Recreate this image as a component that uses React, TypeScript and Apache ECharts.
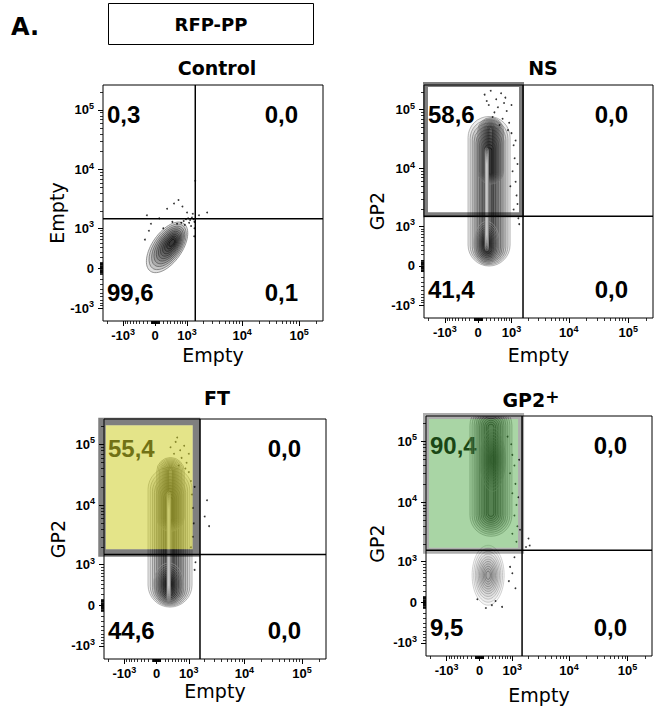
import React, { useEffect, useRef } from "react";
import * as echarts from "echarts";

// ---------------- data ----------------
const panelTitles = ["Control", "NS", "FT", "GP2+"];
const xAxisTitles = ["Empty", "Empty", "Empty", "Empty"];
const yAxisTitles = ["Empty", "GP2", "GP2", "GP2"];
// quadrant percentages: upper-left, upper-right, lower-left, lower-right
const quadrantPercents = [
  [0.3, 0.0, 99.6, 0.1],
  [58.6, 0.0, 41.4, 0.0],
  [55.4, 0.0, 44.6, 0.0],
  [90.4, 0.0, 9.5, 0.0],
];
const quadrantX = [1450, 1640, 1640, 1530];
const quadrantY = [1480, 1530, 1510, 1580];
const gatedPanels = [false, true, true, true];

const axisMinX = -2400;
const axisMaxX = 262144;
const axisMinY = -1700;
const axisMaxY = 262144;
const majorTicks = [-1000, 0, 1000, 10000, 100000];
const majorTickBase = ["-10", "0", "10", "10", "10"];
const majorTickExp = ["3", "", "3", "4", "5"];
const minorMultipliers = [1, 2, 3, 4, 5, 6, 7, 8, 9];
const minorPosDecades = [10, 100, 1000, 10000];
const minorNegDecades = [10, 100];
const minorExtra = [200000, -1000, -2000];

// cell populations drawn as contour rings: centre (raw values), spread (axis units)
type Cluster = { x: number; y: number; w: number; h: number; rot: number; shape: string; dx: number; dy: number; tone: string };
const controlClusters: Cluster[] = [
  { x: 300, y: 400, w: 2.35, h: 1.15, rot: 55, shape: "ellipse", dx: 0.22, dy: 0.2, tone: "black" },
];
const nsClusters: Cluster[] = [
  { x: 258, y: 4120, w: 1.63, h: 5.84, rot: 0, shape: "stadium", dx: 0, dy: -0.4, tone: "dark" },
  { x: 200, y: 450, w: 1.0, h: 1.7, rot: 0, shape: "ellipse", dx: 0, dy: 0, tone: "dark" },
  { x: 300, y: 20000, w: 1.0, h: 2.6, rot: 0, shape: "stadium", dx: 0, dy: 0, tone: "mid" },
  { x: 200, y: 3000, w: 0.13, h: 4.0, rot: 0, shape: "stadium", dx: 0, dy: 0, tone: "highlight" },
];
const ftClusters: Cluster[] = [
  { x: 337, y: 2950, w: 1.76, h: 5.3, rot: 0, shape: "stadium", dx: 0, dy: -0.4, tone: "dark" },
  { x: 300, y: 400, w: 1.2, h: 1.6, rot: 0, shape: "ellipse", dx: 0, dy: 0, tone: "dark" },
  { x: 350, y: 15000, w: 1.1, h: 2.8, rot: 0, shape: "stadium", dx: 0, dy: 0, tone: "mid" },
  { x: 300, y: 2000, w: 0.13, h: 4.2, rot: 0, shape: "stadium", dx: 0, dy: 0, tone: "highlight" },
];
const gp2Clusters: Cluster[] = [
  { x: 277, y: 33400, w: 1.65, h: 5.0, rot: 0, shape: "stadium", dx: 0, dy: 0, tone: "dark" },
  { x: 320, y: 50000, w: 1.0, h: 2.4, rot: 0, shape: "ellipse", dx: 0, dy: 0, tone: "mid" },
  { x: 206, y: 545, w: 1.26, h: 2.27, rot: 0, shape: "ellipse", dx: 0, dy: 0, tone: "light" },
];
const clustersByPanel = [controlClusters, nsClusters, ftClusters, gp2Clusters];

// isolated events (raw values)
const controlDots = [
  [850, 1350], [950, 1450], [1050, 1500], [1150, 1400], [1250, 1550], [1350, 1450], [1100, 1250], [900, 1150],
  [1200, 1100], [1400, 1300], [750, 1250], [600, 1200], [450, 1300], [-100, 1200], [-200, 1700], [100, 1500],
  [300, 2200], [500, 2700], [650, 3100], [800, 2400], [1000, 1900], [1300, 1800], [1700, 1700], [2400, 1900],
  [1450, 6500], [1400, 1000], [1380, 700], [-150, 900], [200, 1000], [-250, 600],
];
const nsDots = [
  [150, 180000], [300, 210000], [450, 150000], [600, 190000], [250, 120000], [500, 110000], [700, 130000],
  [400, 90000], [800, 95000], [650, 70000], [900, 60000], [550, 55000], [350, 75000], [1000, 40000],
  [1100, 25000], [1150, 15000], [1050, 9000], [1200, 6000], [1250, 3500], [1300, 2500], [950, 5000],
  [1100, 2000], [1350, 1400], [1400, 1100], [200, 140000], [750, 160000], [1000, 120000], [850, 45000],
  [1200, 30000], [1300, 12000],
];
const ftDots = [
  [350, 90000], [500, 110000], [650, 80000], [450, 70000], [800, 95000], [700, 60000], [900, 50000],
  [600, 45000], [1000, 35000], [1100, 25000], [1150, 15000], [1200, 9000], [1250, 5000], [1200, 3000],
  [1100, 2000], [1000, 70000], [550, 130000], [850, 40000], [2200, 12000], [2000, 6500], [2400, 4500],
  [1300, 800], [1350, 1100], [1300, 20000],
];
const gp2Dots = [
  [800, 120000], [950, 90000], [1000, 60000], [1100, 40000], [900, 30000], [1150, 20000], [1000, 14000],
  [1200, 9000], [1100, 6000], [1250, 4000], [1000, 3000], [1200, 2200], [1350, 50000], [1300, 12000],
  [1400, 3500], [2000, 2500], [2100, 1900], [1800, 1800], [900, 800], [1000, 600], [850, 400], [300, -50],
  [150, -100], [400, 20], [-50, 50], [600, -80], [1100, 1200], [1150, 250],
];
const dotsByPanel = [controlDots, nsDots, ftDots, gp2Dots];

// ---------------- scales ----------------
const xC = 595;
const yC = 450;
const tx = (v: number) => Math.asinh(v / xC);
const ty = (v: number) => Math.asinh(v / yC);

// ---------------- layout & style ----------------
const gridBoxes = [
  { left: 103, top: 85, width: 220, height: 236 },
  { left: 424, top: 85, width: 229, height: 233 },
  { left: 104, top: 419, width: 222, height: 240 },
  { left: 426, top: 416, width: 226, height: 240 },
];
const titlePos = [
  [217, 68],
  [543, 68],
  [217, 398],
  [531, 400],
];
const xNameGap = [24, 27, 22, 29];
const yNameGap = [29, 38, 30, 40];
const yNameShift = [20, 19, 0, 15];
const gateFill = ["none", "rgba(0,0,0,0)", "rgba(205,205,40,0.55)", "rgba(60,160,50,0.44)"];
const gateStroke = ["none", "rgba(0,0,0,0.5)", "rgba(0,0,0,0.5)", "rgba(0,0,0,0.32)"];
const gateWidth = [0, 5, 7.5, 6];
// inset in px: left, right, top, bottom
const gateInset = [
  [0, 0, 0, 0],
  [1.5, 1.5, -0.5, 1.5],
  [-2, 3.5, 2.5, 1.5],
  [0, 1, 0, -0.5],
];
const ringScale = [1, 0.9, 0.8, 0.71, 0.62, 0.54, 0.46, 0.38, 0.3, 0.22, 0.14];
const ringStretch = [1, 0.97, 0.94, 0.91, 0.88, 0.85, 0.82, 0.79, 0.76, 0.73, 0.7];
const tones: Record<string, { outer: number[]; inner: number[]; fill: string }> = {
  black: { outer: [120, 120, 120], inner: [10, 10, 10], fill: "rgba(0,0,0,0.12)" },
  dark: { outer: [150, 150, 150], inner: [20, 20, 20], fill: "rgba(0,0,0,0.075)" },
  mid: { outer: [120, 120, 120], inner: [40, 40, 40], fill: "rgba(0,0,0,0.05)" },
  light: { outer: [190, 190, 190], inner: [95, 95, 95], fill: "rgba(0,0,0,0.035)" },
  highlight: { outer: [120, 120, 120], inner: [200, 200, 200], fill: "rgba(255,255,255,0.1)" },
};
const SANS = '"DejaVu Sans", Verdana, sans-serif';
const ARIAL = '"Liberation Sans", Arial, sans-serif';

const minorTicks: number[] = [];
minorPosDecades.forEach((d) => minorMultipliers.forEach((m) => minorTicks.push(m * d)));
minorNegDecades.forEach((d) => minorMultipliers.forEach((m) => minorTicks.push(-m * d)));
minorExtra.forEach((v) => minorTicks.push(v));

const tickRich = {
  b: { fontFamily: ARIAL, fontWeight: "bold", fontSize: 13, lineHeight: 17, color: "#000" },
  s: { fontFamily: ARIAL, fontWeight: "bold", fontSize: 9, lineHeight: 10, verticalAlign: "top", color: "#000" },
};

function tickFormatter(t: (v: number) => number) {
  return (value: number) => {
    let idx = 0;
    let best = Infinity;
    majorTicks.forEach((v, i) => {
      const d = Math.abs(t(v) - value);
      if (d < best) {
        best = d;
        idx = i;
      }
    });
    const e = majorTickExp[idx];
    return e ? `{b|${majorTickBase[idx]}}{s|${e}}` : `{b|${majorTickBase[idx]}}`;
  };
}

function lerp(a: number[], b: number[], t: number) {
  return a.map((v, i) => Math.round(v + (b[i] - v) * t));
}

function buildOption() {
  const grid = gridBoxes.map((b) => ({
    ...b,
    show: true,
    borderColor: "#000",
    borderWidth: 1,
    backgroundColor: "transparent",
    containLabel: false,
    outerBoundsMode: "none",
  }));
  const xAxis: any[] = [];
  const yAxis: any[] = [];
  const nameStyle = { fontFamily: SANS, fontSize: 19, color: "#000" };
  const hiddenLine = { show: false, onZero: false };
  for (let k = 0; k < 4; k++) {
    xAxis.push({
      type: "value",
      gridIndex: k,
      position: "bottom",
      min: tx(axisMinX),
      max: tx(axisMaxX),
      name: xAxisTitles[k],
      nameLocation: "middle",
      nameGap: xNameGap[k],
      nameTextStyle: nameStyle,
      axisLine: hiddenLine,
      splitLine: { show: false },
      axisTick: { show: true, customValues: majorTicks.map(tx), length: 5, lineStyle: { color: "#000", width: 1 } },
      axisLabel: { show: true, customValues: majorTicks.map(tx), formatter: tickFormatter(tx), margin: 6, rich: tickRich },
    });
    yAxis.push({
      type: "value",
      gridIndex: k,
      position: "left",
      min: ty(axisMinY),
      max: ty(axisMaxY),
      name: yAxisTitles[k],
      nameLocation: "middle",
      nameGap: yNameGap[k],
      nameTextStyle: { ...nameStyle, padding: [0, yNameShift[k], 0, 0] },
      axisLine: hiddenLine,
      splitLine: { show: false },
      axisTick: { show: true, customValues: majorTicks.map(ty), length: 5, lineStyle: { color: "#000", width: 1 } },
      axisLabel: { show: true, customValues: majorTicks.map(ty), formatter: tickFormatter(ty), margin: 9, rich: tickRich },
    });
  }
  for (let k = 0; k < 4; k++) {
    xAxis.push({
      type: "value",
      gridIndex: k,
      min: tx(axisMinX),
      max: tx(axisMaxX),
      position: "bottom",
      offset: 0,
      axisLine: hiddenLine,
      splitLine: { show: false },
      axisLabel: { show: false },
      axisTick: { show: true, customValues: minorTicks.map(tx), length: 3, lineStyle: { color: "#000", width: 0.8 } },
    });
    yAxis.push({
      type: "value",
      gridIndex: k,
      min: ty(axisMinY),
      max: ty(axisMaxY),
      position: "left",
      offset: 0,
      axisLine: hiddenLine,
      splitLine: { show: false },
      axisLabel: { show: false },
      axisTick: { show: true, customValues: minorTicks.map(ty), length: 3, lineStyle: { color: "#000", width: 0.8 } },
    });
  }

  const series: any[] = [];
  for (let k = 0; k < 4; k++) {
    // quadrant percentages (under the gate overlay)
    series.push({
      type: "custom",
      xAxisIndex: k,
      yAxisIndex: k,
      z: 2,
      silent: true,
      clip: false,
      data: quadrantPercents[k].map((v, i) => [i, v]),
      renderItem: (params: any) => {
        const cs = params.coordSys;
        const i = params.dataIndex;
        const left = i % 2 === 0;
        const top = i < 2;
        const text = quadrantPercents[k][i].toFixed(1).replace(".", ",");
        return {
          type: "text",
          x: left ? cs.x + 4 : cs.x + cs.width - 25,
          y: top ? cs.y + 29 : cs.y + cs.height - 29,
          style: {
            text,
            fill: "#000",
            font: `bold 24px ${ARIAL}`,
            align: left ? "left" : "right",
            textAlign: left ? "left" : "right",
            verticalAlign: "middle",
            textVerticalAlign: "middle",
          },
        };
      },
    });
    // contour rings
    const rings: { cl: Cluster; i: number }[] = [];
    clustersByPanel[k].forEach((cl) => ringScale.forEach((_, i) => rings.push({ cl, i })));
    series.push({
      type: "custom",
      xAxisIndex: k,
      yAxisIndex: k,
      z: 3,
      silent: true,
      clip: true,
      data: rings.map((r) => [tx(r.cl.x), ty(r.cl.y)]),
      renderItem: (params: any, api: any) => {
        const { cl, i } = rings[params.dataIndex];
        const s = ringScale[i];
        const c = api.coord([tx(cl.x) + (1 - s) * cl.dx, ty(cl.y) + (1 - s) * cl.dy]);
        const sz = api.size([cl.w, cl.h]);
        const w = sz[0] * s;
        const h = sz[1] * (cl.shape === "stadium" ? ringStretch[i] : s);
        const tone = tones[cl.tone];
        const col = lerp(tone.outer, tone.inner, i / (ringScale.length - 1));
        const style = {
          fill: tone.fill,
          stroke: `rgb(${col[0]},${col[1]},${col[2]})`,
          lineWidth: 0.7,
        };
        if (cl.shape === "stadium") {
          return {
            type: "rect",
            shape: { x: c[0] - w / 2, y: c[1] - h / 2, width: w, height: h, r: Math.min(w, h) / 2 },
            style,
          };
        }
        return {
          type: "ellipse",
          x: c[0],
          y: c[1],
          rotation: (cl.rot * Math.PI) / 180,
          shape: { cx: 0, cy: 0, rx: w / 2, ry: h / 2 },
          style,
        };
      },
    });
    // isolated events
    series.push({
      type: "scatter",
      xAxisIndex: k,
      yAxisIndex: k,
      z: 4,
      silent: true,
      symbol: "circle",
      symbolSize: 1.8,
      itemStyle: { color: "#000" },
      data: dotsByPanel[k].map(([x, y]) => [tx(x), ty(y)]),
    });
    // gate
    if (gatedPanels[k]) {
      series.push({
        type: "custom",
        xAxisIndex: k,
        yAxisIndex: k,
        z: 5,
        silent: true,
        clip: false,
        data: [[tx(quadrantX[k]), ty(quadrantY[k])]],
        renderItem: (params: any, api: any) => {
          const cs = params.coordSys;
          const q = api.coord([tx(quadrantX[k]), ty(quadrantY[k])]);
          const [il, ir, it, ib] = gateInset[k];
          const x0 = cs.x + il;
          const x1 = q[0] - ir;
          const y0 = cs.y + it;
          const y1 = q[1] - ib;
          const lw = gateWidth[k];
          return {
            type: "group",
            children: [
              {
                type: "rect",
                shape: { x: x0 + lw / 2, y: y0 + lw / 2, width: x1 - x0 - lw, height: y1 - y0 - lw },
                style: { fill: gateFill[k], stroke: "none" },
              },
              {
                type: "rect",
                shape: { x: x0, y: y0, width: x1 - x0, height: y1 - y0 },
                style: { fill: "none", stroke: gateStroke[k], lineWidth: lw },
              },
            ],
          };
        },
      });
    }
    // quadrant lines
    series.push({
      type: "custom",
      xAxisIndex: k,
      yAxisIndex: k,
      z: 6,
      silent: true,
      clip: false,
      data: [[tx(quadrantX[k]), ty(quadrantY[k])]],
      renderItem: (params: any, api: any) => {
        const cs = params.coordSys;
        const q = api.coord([tx(quadrantX[k]), ty(quadrantY[k])]);
        const ls = { stroke: "#000", lineWidth: 1.5 };
        return {
          type: "group",
          children: [
            { type: "line", shape: { x1: q[0], y1: cs.y, x2: q[0], y2: cs.y + cs.height }, style: ls },
            { type: "line", shape: { x1: cs.x, y1: q[1], x2: cs.x + cs.width, y2: q[1] }, style: ls },
          ],
        };
      },
    });
  }

  const titleFont = `bold 19px ${SANS}`;
  const graphic: any[] = [
    {
      type: "text",
      x: 11,
      y: 27,
      style: { text: "A.", font: `bold 24px ${SANS}`, fill: "#000", align: "left", textAlign: "left", verticalAlign: "middle", textVerticalAlign: "middle" },
    },
    {
      type: "rect",
      shape: { x: 108.5, y: 3.5, width: 205, height: 41 },
      style: { fill: "none", stroke: "#000", lineWidth: 1 },
    },
    {
      type: "text",
      x: 211,
      y: 24,
      style: { text: "RFP-PP", font: `bold 18px ${SANS}`, fill: "#000", align: "center", textAlign: "center", verticalAlign: "middle", textVerticalAlign: "middle" },
    },
  ];
  panelTitles.forEach((t, k) => {
    const sup = t.endsWith("+");
    graphic.push({
      type: "text",
      x: titlePos[k][0],
      y: titlePos[k][1],
      style: {
        text: sup ? `{a|${t.slice(0, -1)}}{s|+}` : t,
        font: titleFont,
        fill: "#000",
        align: "center",
        textAlign: "center",
        verticalAlign: "middle",
        textVerticalAlign: "middle",
        rich: {
          a: { fontFamily: SANS, fontWeight: "bold", fontSize: 19, lineHeight: 24, fill: "#000", color: "#000" },
          s: { fontFamily: SANS, fontWeight: "bold", fontSize: 17, lineHeight: 14, verticalAlign: "top", fill: "#000", color: "#000" },
        },
      },
    });
  });

  return {
    animation: false,
    backgroundColor: "#fff",
    grid,
    xAxis,
    yAxis,
    series,
    graphic: { elements: graphic },
  };
}

export default function App() {
  const ref = useRef<HTMLDivElement>(null);
  useEffect(() => {
    const chart = echarts.init(ref.current!, null, { renderer: "svg" });
    chart.setOption(buildOption() as any);
    return () => chart.dispose();
  }, []);
  return (
    <div
      ref={ref}
      style={{ position: "fixed", left: 0, top: 0, width: 654, height: 714, background: "#fff" }}
    />
  );
}
